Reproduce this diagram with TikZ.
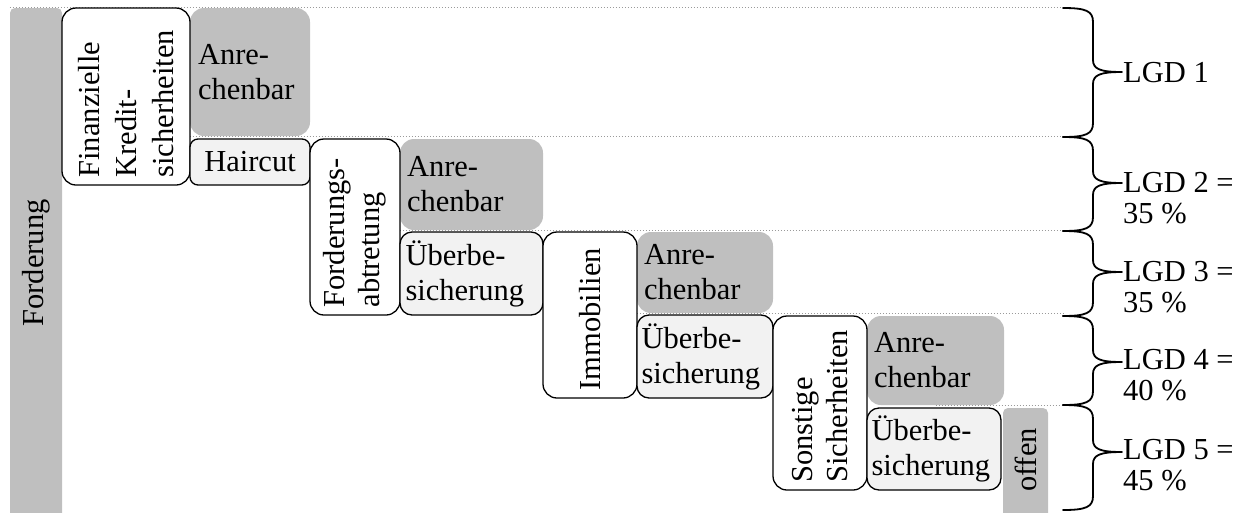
\documentclass[tikz,border=0pt]{standalone}
\usepackage{fontspec}
\setmainfont{Liberation Serif}
\usetikzlibrary{fit}
\definecolor{grayfill}{HTML}{BFBFBF}
\definecolor{lightfill}{HTML}{F2F2F2}
\definecolor{guidegray}{HTML}{9A9A9A}
\newcommand\lgdbrace[3]{%
  \draw[brc] (1063,#1) .. controls (1086,#1) and (1093,{#1+3}) .. (1093,{#1+14})
    -- (1093,{#2-12}) .. controls (1093,{#2-3}) and (1100,#2) .. (1122,#2)
    .. controls (1100,#2) and (1093,{#2+3}) .. (1093,{#2+12})
    -- (1093,{#3-14}) .. controls (1093,{#3-3}) and (1086,#3) .. (1063,#3);}
\begin{document}
\begin{tikzpicture}[x=1pt,y=-1pt,
  every node/.style={font=\fontsize{30.5}{35}\selectfont},
  wbox/.style={draw=black, line width=1.3pt, fill=white, rounded corners=14pt, inner sep=0pt},
  lbox/.style={wbox, fill=lightfill, rounded corners=12pt},
  gbox/.style={fill=grayfill, rounded corners=14pt, inner sep=0pt},
  bar/.style={fill=grayfill, rounded corners=5pt, inner sep=0pt},
  txt/.style={inner sep=0pt, align=left},
  lgd/.style={inner sep=0pt, align=left, font=\fontsize{30.5}{31}\selectfont},
  guide/.style={draw=guidegray, line width=0.8pt, dash pattern=on 1pt off 2pt},
  brc/.style={line width=1.8pt, line join=round, line cap=round}
]
\useasboundingbox (0,0) rectangle (1247,512);
\coordinate (R) at (1063,0);

% boxes
\node[bar, fit={(10,8) (62,540)}] (ford) {};
\node[bar, fit={(1003,408) (1048,540)}] (off) {};
\node[gbox, fit={(190,8) (310,136)}] (an1) {};
\node[gbox, fit={(400,139) (543,230)}] (an2) {};
\node[gbox, fit={(637,232) (773,313)}] (an3) {};
\node[gbox, fit={(867,316) (1004,405)}] (an4) {};

% guide lines
\draw[guide] (ford.north west) -- (ford.north west -| R);
\draw[guide] (an1.south west) -- (an1.south west -| R);
\draw[guide] (an2.south west) -- (an2.south west -| R);
\draw[guide] (an3.south west) -- (an3.south west -| R);
\draw[guide] (an4.south) -- (an4.south -| R);

\node[wbox, fit={(62,8) (190,185)}] (fin) {};
\node[lbox, rounded corners=8pt, fit={(190,139) (310,185)}] (hair) {};
\node[wbox, fit={(310,139) (400,315)}] (abt) {};
\node[lbox, fit={(400,232) (543,315)}] (ub2) {};
\node[wbox, fit={(543,232) (637,398)}] (imm) {};
\node[lbox, fit={(637,315) (773,398)}] (ub3) {};
\node[wbox, fit={(773,316) (867,490)}] (son) {};
\node[lbox, fit={(867,408) (1001,490)}] (ub4) {};

% texts
\node[txt, rotate=90] (tford) at (36,263) {Forderung};
\node[txt, rotate=90] (toff) at (1025.5,460) {offen};
\node[txt, rotate=90, anchor=west, font=\fontsize{30.5}{37}\selectfont] (tfin) at ([yshift=8pt]fin.south) {F\kern0pt inanzielle\\Kredit-\\sicherheiten};
\node[txt, rotate=90, anchor=west] (tabt) at ([yshift=8pt]abt.south) {Forderungs-\\abtretung};
\node[txt, rotate=90, anchor=west] (timm) at ([yshift=8pt]imm.south) {Immobilien};
\node[txt, rotate=90, anchor=west] (tson) at ([yshift=8pt]son.south) {Sonstige\\Sicherheiten};
\node[txt] (thair) at (hair.center) {Haircut};
\node[txt, anchor=west] (tan1) at ([xshift=8pt]an1.west) {Anre-\\chenbar};
\node[txt, anchor=west] (tan2) at ([xshift=7pt]an2.west) {Anre-\\chenbar};
\node[txt, anchor=west] (tan3) at ([xshift=7pt]an3.west) {Anre-\\chenbar};
\node[txt, anchor=west] (tan4) at ([xshift=7pt]an4.west) {Anre-\\chenbar};
\node[txt, anchor=west] (tub2) at ([xshift=6pt]ub2.west) {Überbe-\\sicherung};
\node[txt, anchor=west] (tub3) at ([xshift=5pt]ub3.west) {Überbe-\\sicherung};
\node[txt, anchor=west] (tub4) at ([xshift=5pt]ub4.west) {Überbe-\\sicherung};

% braces
\lgdbrace{8}{72}{137}
\lgdbrace{137}{183}{231}
\lgdbrace{231}{272}{316}
\lgdbrace{316}{362}{405}
\lgdbrace{405}{452}{510}

\node[lgd, anchor=north west] (l1) at (1123,62) {LGD 1};
\node[lgd, anchor=north west] (l2) at (1123,172) {LGD 2 =\\35 \%};
\node[lgd, anchor=north west] (l3) at (1123,261) {LGD 3 =\\35 \%};
\node[lgd, anchor=north west] (l4) at (1123,349) {LGD 4 =\\40 \%};
\node[lgd, anchor=north west] (l5) at (1123,439) {LGD 5 =\\45 \%};
\end{tikzpicture}
\end{document}
